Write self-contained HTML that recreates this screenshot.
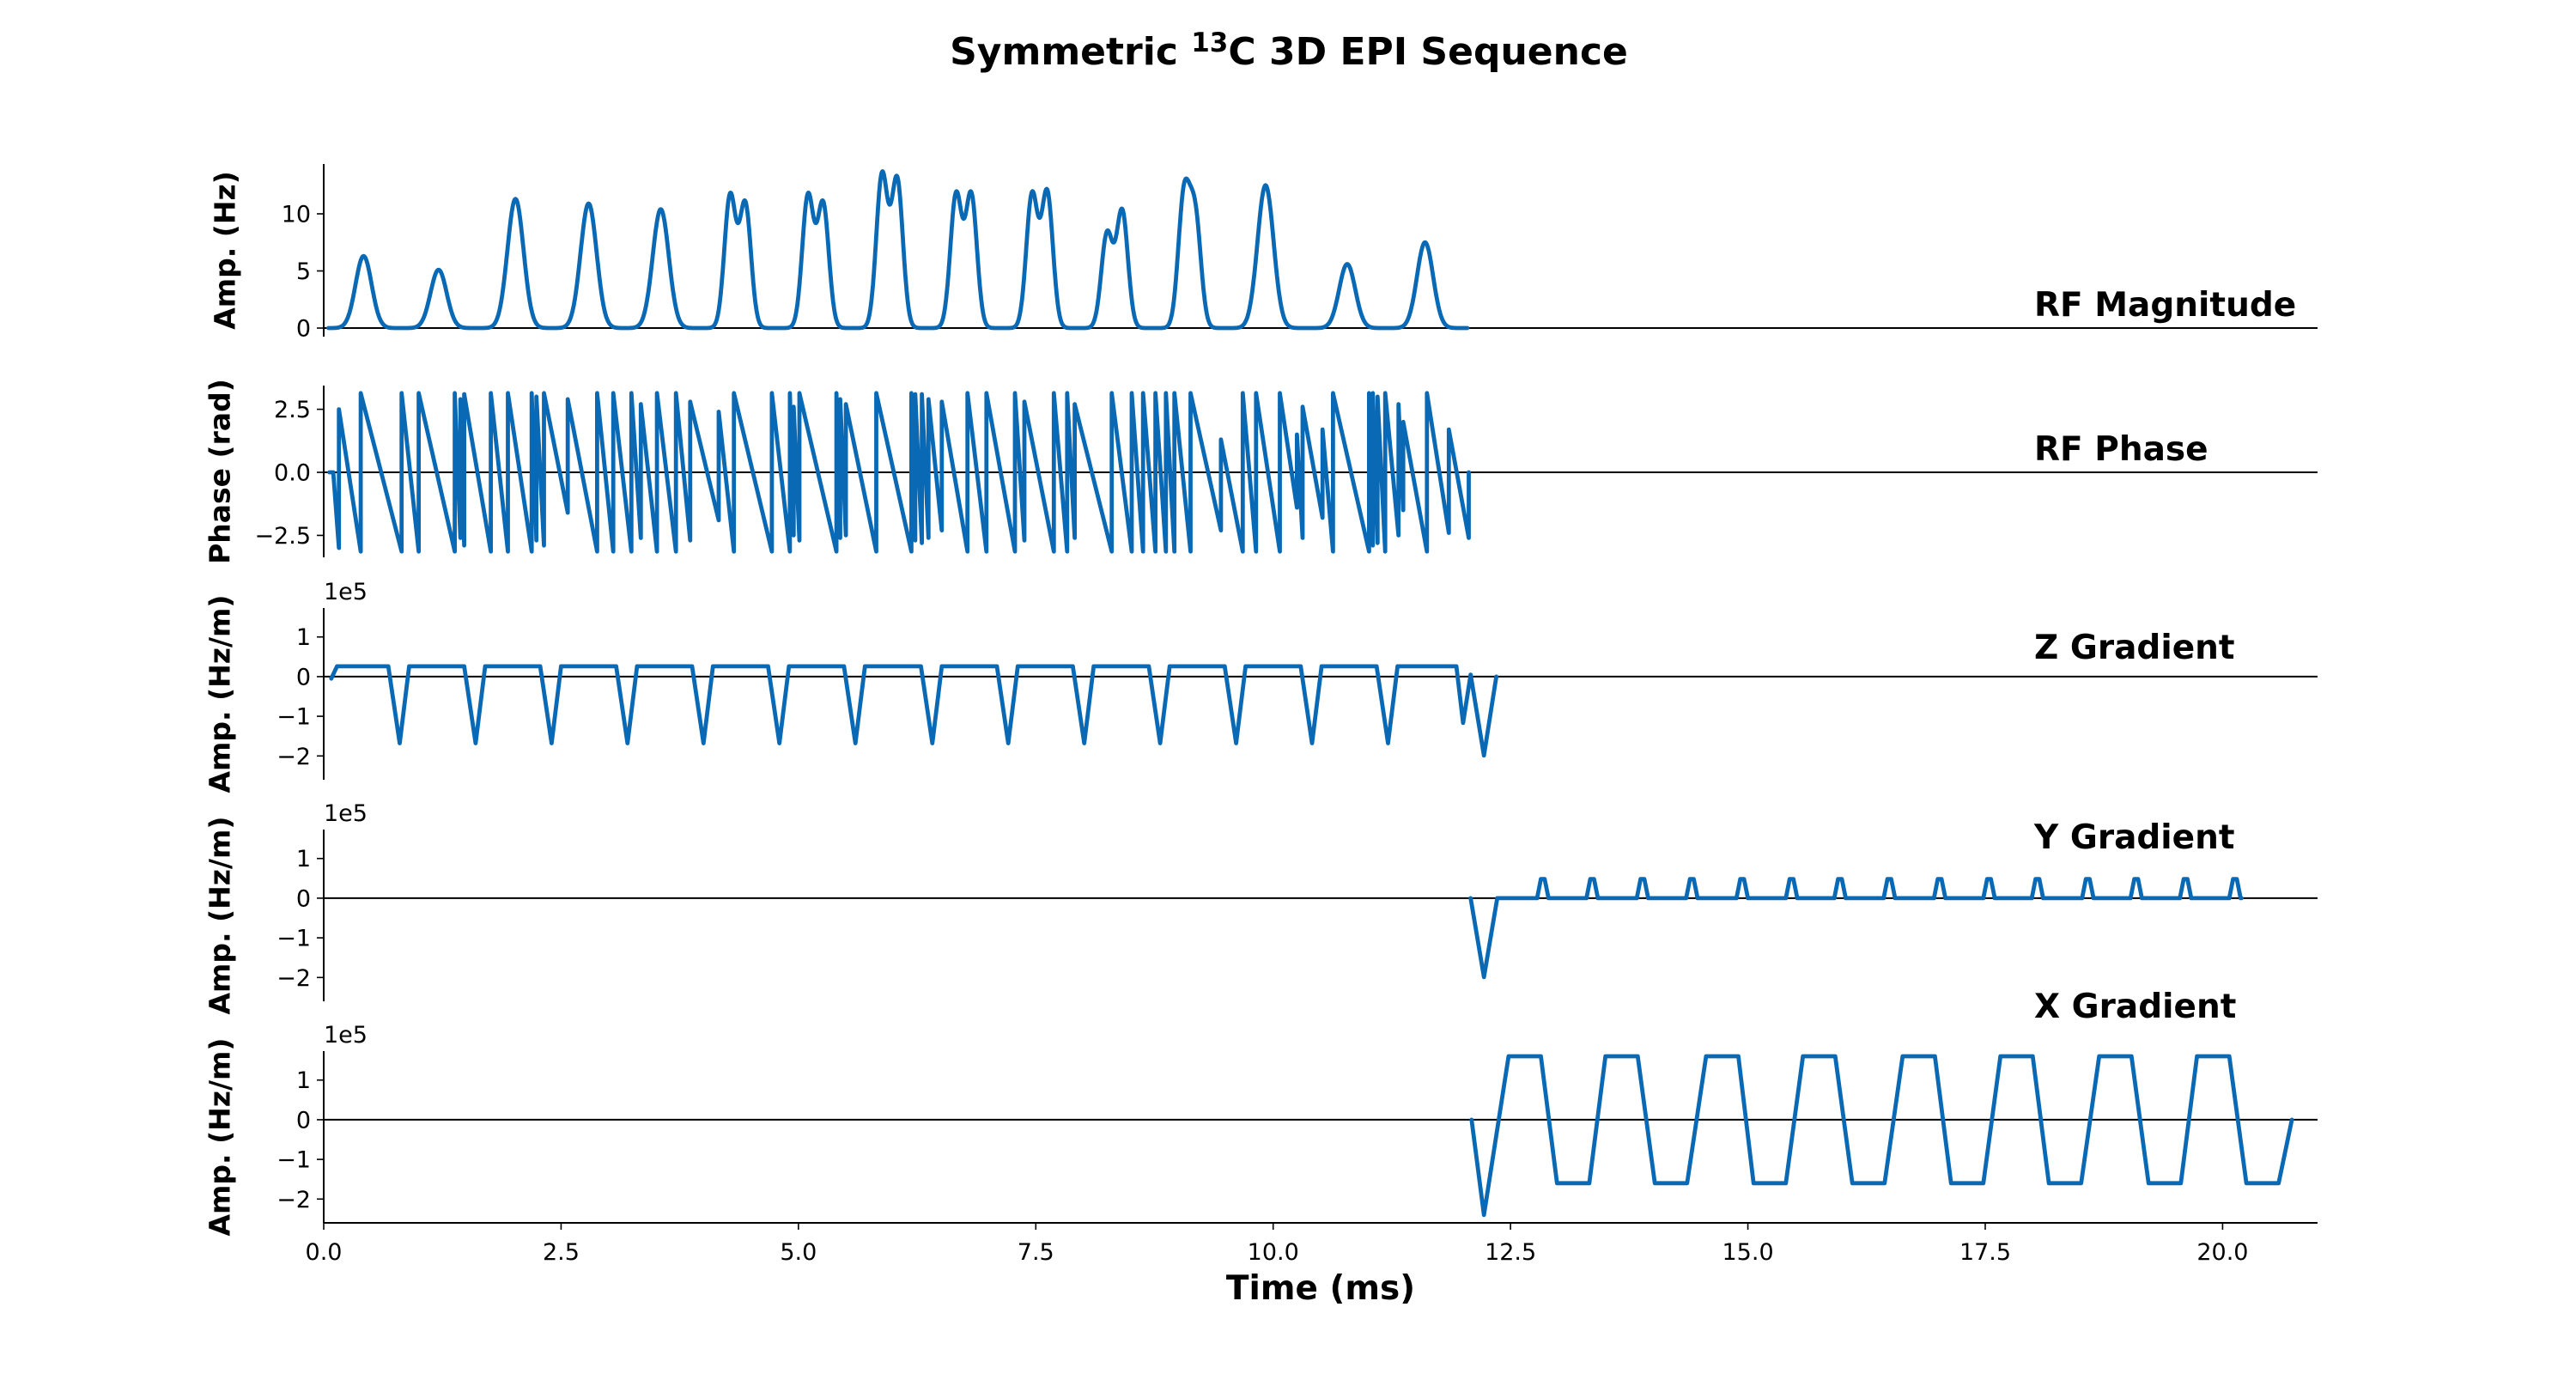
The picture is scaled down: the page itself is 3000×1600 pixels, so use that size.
<!DOCTYPE html>
<html><head><meta charset="utf-8"><style>
html,body{margin:0;padding:0;background:#fff;}
svg{display:block;font-family:"DejaVu Sans","Liberation Sans",sans-serif;}
</style></head><body>
<svg id="fig" width="3000" height="1600" viewBox="0 0 3000 1600" xmlns="http://www.w3.org/2000/svg">
<rect width="3000" height="1600" fill="#fff"/>
<text x="1501" y="75" text-anchor="middle" font-size="44" font-weight="bold">Symmetric <tspan font-size="31" dy="-15">13</tspan><tspan dy="15">C 3D EPI Sequence</tspan></text>
<g id="plots"></g>
</svg>
<script>
// ---- data ----
const xTicks = [0, 2.5, 5, 7.5, 10, 12.5, 15, 17.5, 20];
const xTickLabels = ["0.0","2.5","5.0","7.5","10.0","12.5","15.0","17.5","20.0"];
// RF magnitude lobes
const lobeT = [0.42,1.21,2.02,2.79,3.55,4.36,5.18,5.96,6.74,7.54,8.33,9.12,9.92,10.78,11.60];
const lobeA1 = [6.3,5.1,11.3,10.9,10.4,11.5,11.5,13.3,11.6,11.6,8.2,11.3,12.5,5.6,7.5];
const lobeA2 = [6.3,5.1,11.3,10.9,10.4,10.8,10.8,12.9,11.6,11.8,10.2,9.5,12.5,5.6,7.5];
const lobeSplit = [0,0,0,0,0,0.08,0.08,0.08,0.08,0.08,0.08,0.06,0,0,0];
// RF phase: jump times (ms), value reached just before each jump, and value after the jump
const phaseJumpT = [0.16,0.39,0.82,1.00,1.38,1.44,1.48,1.76,1.94,2.19,2.24,2.32,2.57,2.88,3.05,3.24,3.34,3.51,3.71,3.86,4.16,4.32,4.72,4.91,4.95,5.01,5.40,5.44,5.50,5.82,6.19,6.23,6.30,6.37,6.51,6.78,6.98,7.28,7.38,7.69,7.83,7.91,8.30,8.51,8.63,8.76,8.87,8.96,9.13,9.45,9.68,9.82,10.07,10.25,10.31,10.52,10.63,11.01,11.05,11.10,11.18,11.32,11.37,11.62,11.85];
const phaseLowV = [-3.0,-3.14,-3.14,-3.14,-3.14,-2.6,-2.9,-3.14,-3.14,-3.14,-2.7,-2.9,-1.6,-3.14,-3.14,-3.14,-2.6,-3.14,-3.14,-2.7,-1.9,-3.14,-3.14,-3.14,-2.5,-2.7,-3.14,-2.6,-2.5,-3.14,-3.14,-2.7,-2.8,-2.6,-2.3,-3.14,-3.14,-3.14,-2.7,-3.14,-3.14,-2.6,-3.14,-3.14,-3.14,-3.14,-3.14,-3.14,-3.14,-2.3,-3.14,-3.14,-3.14,-1.4,-2.6,-1.8,-3.14,-3.14,-2.9,-2.8,-3.14,-2.5,-1.5,-3.14,-2.4];
const phaseTopV = [2.5,3.14,3.14,3.14,3.14,2.9,3.1,3.14,3.14,3.14,3.0,3.14,2.9,3.14,3.14,3.14,2.7,3.14,3.14,2.8,2.4,3.14,3.14,3.14,2.6,3.14,3.14,2.9,2.7,3.14,3.14,3.1,3.1,2.9,2.8,3.14,3.14,3.14,2.8,3.14,3.14,2.7,3.14,3.14,3.14,3.14,3.14,3.14,3.14,1.3,3.14,3.14,3.14,1.5,2.6,1.7,3.14,3.14,3.14,3.0,3.14,2.7,2.0,3.14,1.7];
const phaseEnd = [12.06, -2.6];
// Z gradient (1e5 Hz/m)
const zDipT = [0.80,1.60,2.40,3.20,4.00,4.80,5.60,6.41,7.21,8.01,8.81,9.61,10.41,11.21];
const zPlateau = 0.26, zDipV = -1.68;
const zTailT = [11.93,12.00,12.08,12.22,12.35];
const zTailV = [0.26,-1.17,0.05,-1.99,0.0];
// Y gradient
const yPreT = [12.08,12.22,12.36];
const yPreV = [0.0,-1.99,0.0];
const yBlipT = [12.84,13.36,13.89,14.41,14.94,15.46,15.97,16.49,17.02,17.54,18.05,18.58,19.09,19.61,20.13];
const yBlipV = 0.48, yEndT = 20.2;
// X gradient
const xPreT = [12.09,12.22];
const xPreV = [0.0,-2.4];
const xTopStart = [12.48,13.50,14.56,15.58,16.63,17.66,18.70,19.73];
const xBotStart = [12.99,14.02,15.06,16.10,17.14,18.17,19.22,20.25];
const xAmp = 1.6, xEndT = 20.73;

// ---- layout ----
const X0 = 377, X1 = 2699, XMAX = 21.0;
const sx = t => X0 + (t / XMAX) * (X1 - X0);
const panels = [
  {name:"rf-magnitude", top:191, h:201, ymin:-0.75, ymax:14.36, ticks:[0,5,10], labels:["0","5","10"], ylabel:"Amp. (Hz)", title:"RF Magnitude", titleY:368, ylx:262},
  {name:"rf-phase", top:449, h:200, ymin:-3.37, ymax:3.44, ticks:[-2.5,0,2.5], labels:["\u22122.5","0.0","2.5"], ylabel:"Phase (rad)", title:"RF Phase", titleY:536, ylx:256},
  {name:"z-gradient", top:708, h:200, ymin:-2.6, ymax:1.73, ticks:[-2,-1,0,1], labels:["\u22122","\u22121","0","1"], ylabel:"Amp. (Hz/m)", title:"Z Gradient", titleY:767, ylx:256, off:true},
  {name:"y-gradient", top:966, h:200, ymin:-2.6, ymax:1.73, ticks:[-2,-1,0,1], labels:["\u22122","\u22121","0","1"], ylabel:"Amp. (Hz/m)", title:"Y Gradient", titleY:988, ylx:256, off:true},
  {name:"x-gradient", top:1224, h:200, ymin:-2.6, ymax:1.73, ticks:[-2,-1,0,1], labels:["\u22122","\u22121","0","1"], ylabel:"Amp. (Hz/m)", title:"X Gradient", titleY:1185, ylx:256, off:true, xaxis:true}
];
const NS = "http://www.w3.org/2000/svg";
const root = document.getElementById("plots");
function mk(tag, attrs, parent){ const e=document.createElementNS(NS,tag); for(const k in attrs) e.setAttribute(k,attrs[k]); (parent||root).appendChild(e); return e; }
const COLOR = "#0a69b4";

function rfMag(){
  const pts=[];
  for(let t=0.05;t<=12.05;t+=0.005){
    let v=0;
    for(let i=0;i<lobeT.length;i++){
      const c=lobeT[i], d=lobeSplit[i];
      if(Math.abs(t-c)>0.6) continue;
      if(d>0){
        const s=0.085;
        v+=lobeA1[i]*Math.exp(-Math.pow((t-(c-d))/s,2))+lobeA2[i]*Math.exp(-Math.pow((t-(c+d))/s,2));
      } else {
        const s=0.12;
        v+=lobeA1[i]*Math.exp(-Math.pow((t-c)/s,2));
      }
    }
    pts.push([t,v]);
  }
  return pts;
}
function rfPhase(){
  const pts=[[0.06,0],[0.1,0]];
  for(let i=0;i<phaseJumpT.length;i++){
    pts.push([phaseJumpT[i],phaseLowV[i]]);
    pts.push([phaseJumpT[i],phaseTopV[i]]);
  }
  pts.push(phaseEnd);
  pts.push([phaseEnd[0],0]);
  return pts;
}
function zGrad(){
  const pts=[[0.08,-0.05],[0.14,zPlateau]];
  for(const d of zDipT){ pts.push([d-0.12,zPlateau],[d,zDipV],[d+0.1,zPlateau]); }
  for(let i=0;i<zTailT.length;i++) pts.push([zTailT[i],zTailV[i]]);
  return pts;
}
function yGrad(){
  const pts=[];
  for(let i=0;i<yPreT.length;i++) pts.push([yPreT[i],yPreV[i]]);
  for(const b of yBlipT){ pts.push([b-0.06,0],[b-0.02,yBlipV],[b+0.02,yBlipV],[b+0.06,0]); }
  pts.push([yEndT,0]);
  return pts;
}
function xGrad(){
  const pts=[];
  for(let i=0;i<xPreT.length;i++) pts.push([xPreT[i],xPreV[i]]);
  for(let i=0;i<xTopStart.length;i++){
    pts.push([xTopStart[i],xAmp],[xTopStart[i]+0.34,xAmp]);
    pts.push([xBotStart[i],-xAmp],[xBotStart[i]+0.34,-xAmp]);
  }
  pts.push([xEndT,0]);
  return pts;
}
const series=[rfMag(),rfPhase(),zGrad(),yGrad(),xGrad()];

panels.forEach((p,pi)=>{
  const g=mk("g",{});
  
  
  const sy=v=>p.top+(p.ymax-v)/(p.ymax-p.ymin)*p.h;
  const sp=mk("line",{x1:X0,x2:X0,y1:p.top,y2:p.top+p.h,stroke:"#000","stroke-width":2},g);
  
  
  p.ticks.forEach((tv,ti)=>{
    const y=sy(tv);
    const tk=mk("line",{x1:X0-8,x2:X0,y1:y,y2:y,stroke:"#000","stroke-width":1.6},g);
    
    
    const tl=mk("text",{x:X0-15,y:y+9.5,"text-anchor":"end","font-size":27},g);
    tl.textContent=p.labels[ti];
    
    
  });
  if(p.off){
    const o=mk("text",{x:X0,y:p.top-10,"font-size":27},g);
    o.textContent="1e5";
    
    
  }
  const cy=p.top+p.h/2;
  const yl=mk("text",{x:p.ylx,y:cy,"text-anchor":"middle","font-size":33,"font-weight":"bold",transform:`rotate(-90 ${p.ylx} ${cy})`,"dominant-baseline":"central"},g);
  yl.textContent=p.ylabel;
  
  
  const z=mk("line",{x1:X0,x2:X1,y1:sy(0),y2:sy(0),stroke:"#000","stroke-width":2},g);
  
  
  const d=series[pi].map((q,i)=>(i?"L":"M")+sx(q[0]).toFixed(1)+" "+sy(q[1]).toFixed(1)).join("");
  const path=mk("path",{d:d,fill:"none",stroke:COLOR,"stroke-width":4.8,"stroke-linejoin":"round","stroke-linecap":"round"},g);
  
  
  const t=mk("text",{x:2369,y:p.titleY,"font-size":39,"font-weight":"bold"},g);
  t.textContent=p.title;
  
  
  if(p.xaxis){
    const by=p.top+p.h;
    const xa=mk("line",{x1:X0,x2:X1,y1:by,y2:by,stroke:"#000","stroke-width":2},g);
    
    
    xTicks.forEach((tv,ti)=>{
      const x=sx(tv);
      const tk=mk("line",{x1:x,x2:x,y1:by,y2:by+8,stroke:"#000","stroke-width":1.6},g);
      
      
      const tl=mk("text",{x:x,y:by+43,"text-anchor":"middle","font-size":27},g);
      tl.textContent=xTickLabels[ti];
      
      
    });
    const xt=mk("text",{x:(X0+X1)/2,y:1513,"text-anchor":"middle","font-size":39,"font-weight":"bold"},g);
    xt.textContent="Time (ms)";
    
    
  }
});
</script>
</body></html>
